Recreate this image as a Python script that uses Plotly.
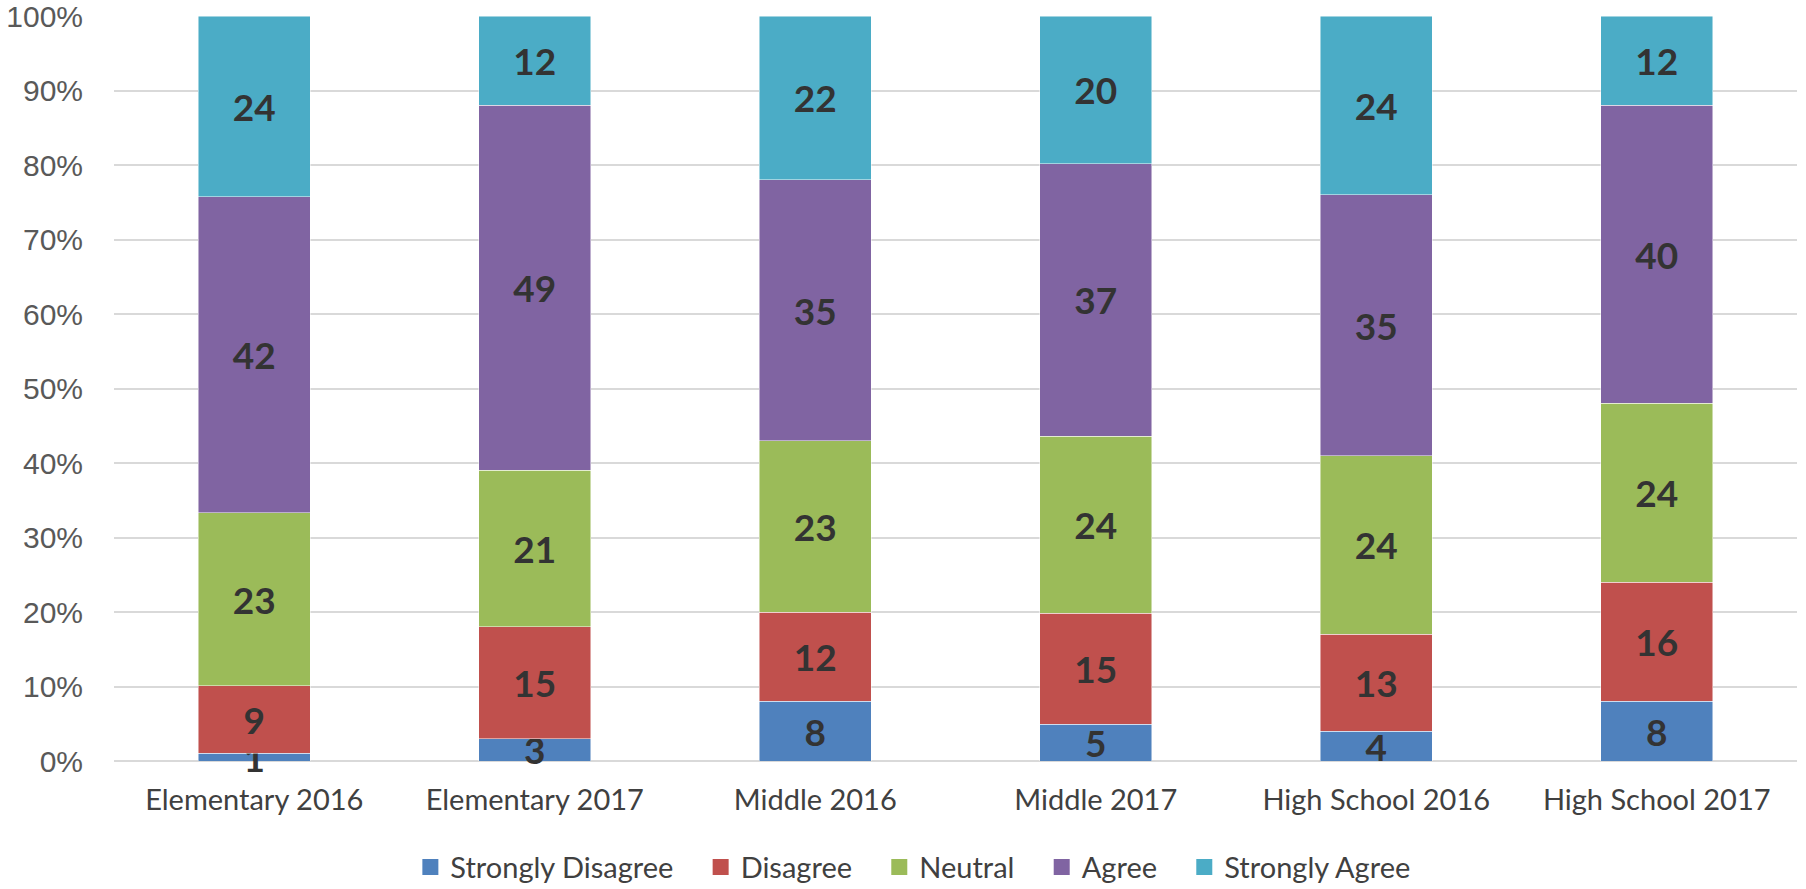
import plotly.graph_objects as go

categories = ["Elementary 2016", "Elementary 2017", "Middle 2016", "Middle 2017",
              "High School 2016", "High School 2017"]
series_names = ["Strongly Disagree", "Disagree", "Neutral", "Agree", "Strongly Agree"]
strongly_disagree = [1, 3, 8, 5, 4, 8]
disagree = [9, 15, 12, 15, 13, 16]
neutral = [23, 21, 23, 24, 24, 24]
agree = [42, 49, 35, 37, 35, 40]
strongly_agree = [24, 12, 22, 20, 24, 12]
y_ticks = [0, 10, 20, 30, 40, 50, 60, 70, 80, 90, 100]
y_tick_labels = [f"{v}%" for v in y_ticks]

colors = ["#4F81BD", "#C0504D", "#9BBB59", "#8064A2", "#4BACC6"]
series_values = [strongly_disagree, disagree, neutral, agree, strongly_agree]

fig = go.Figure()
for name, vals, col in zip(series_names, series_values, colors):
    fig.add_trace(go.Bar(
        x=categories, y=vals, name=name, showlegend=False,
        marker=dict(color=col, line=dict(color="rgba(255,255,255,0.6)", width=0.8)),
        text=vals, texttemplate="%{text}", textposition="inside",
        insidetextanchor="middle", textangle=0,
        textfont=dict(family="Lato", size=37, color="#333333", weight="bold"),
        constraintext="none", cliponaxis=False,
    ))
# legend entries with larger square swatches
for name, col in zip(series_names, colors):
    fig.add_trace(go.Scatter(
        x=[None], y=[None], mode="markers", name=name + "\u00a0\u00a0\u00a0",
        marker=dict(symbol="square", size=19, color=col),
    ))

fig.update_layout(
    barmode="stack", barnorm="percent", bargap=0.6,
    width=1806, height=889,
    margin=dict(l=114, r=9, t=16, b=128),
    paper_bgcolor="white", plot_bgcolor="white",
    uniformtext=dict(minsize=37, mode="show"),
    font=dict(family="Lato", color="#404040"),
    legend=dict(orientation="h", x=0.4815, xanchor="center",
                yref="container", y=0.0247, yanchor="middle",
                font=dict(family="Lato", size=29, color="#404040"),
                traceorder="normal", itemwidth=30, itemsizing="trace"),
    xaxis=dict(tickfont=dict(family="Lato", size=29, color="#404040"),
               showline=False, ticks="", automargin=False, ticklabelstandoff=19),
    yaxis=dict(range=[0, 100], tickvals=y_ticks, ticktext=y_tick_labels,
               tickfont=dict(family="Liberation Sans", size=30, color="#595959"),
               showgrid=True, gridcolor="#D9D9D9", gridwidth=1.5,
               zeroline=True, zerolinecolor="#D9D9D9", zerolinewidth=1.5,
               ticks="", ticklabelstandoff=30, automargin=False,
               ticklabeloverflow="allow"),
    showlegend=True,
)

fig.write_html("out.html", config={"displayModeBar": False},
               post_script="document.body.style.margin='0';document.body.style.overflow='hidden';")
